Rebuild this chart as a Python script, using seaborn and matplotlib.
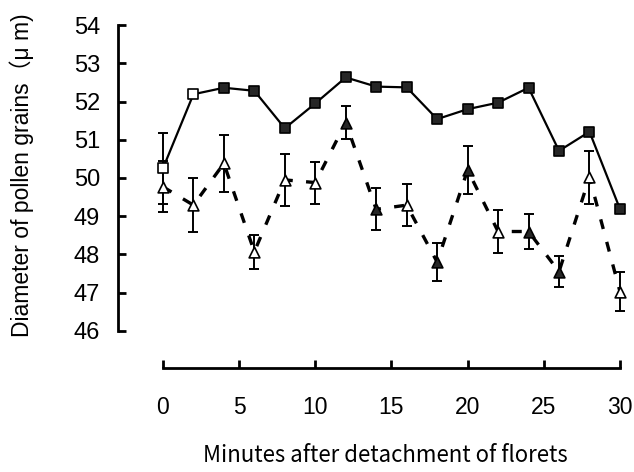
import numpy as np
import pandas as pd
import matplotlib
matplotlib.use("Agg")
import matplotlib.pyplot as plt
import seaborn as sns

# ---- data ----
minutes = [0, 2, 4, 6, 8, 10, 12, 14, 16, 18, 20, 22, 24, 26, 28, 30]
square_vals = [50.25, 52.19, 52.36, 52.28, 51.30, 51.95, 52.63, 52.39,
               52.37, 51.54, 51.80, 51.97, 52.36, 50.71, 51.21, 49.19]
square_err = [0.92] + [np.nan] * 15
square_filled = [False, False] + [True] * 14
tri_vals = [49.77, 49.29, 50.38, 48.07, 49.95, 49.88, 51.45, 49.18,
            49.29, 47.80, 50.21, 48.60, 48.60, 47.55, 50.02, 47.03]
tri_err = [0.67, 0.70, 0.75, 0.45, 0.68, 0.55, 0.44, 0.55,
           0.55, 0.49, 0.63, 0.55, 0.45, 0.40, 0.69, 0.51]
tri_filled = [False, False, False, False, False, False, True, True,
              False, True, True, False, True, True, False, False]
y_ticks = [46, 47, 48, 49, 50, 51, 52, 53, 54]
x_ticks = [0, 5, 10, 15, 20, 25, 30]
x_label = "Minutes after detachment of florets"
y_label = "Diameter of pollen grains（μ m)"

sq = pd.DataFrame({"t": minutes, "v": square_vals, "e": square_err, "f": square_filled})
tr = pd.DataFrame({"t": minutes, "v": tri_vals, "e": tri_err, "f": tri_filled})

sns.set_style("white")
plt.rcParams["font.family"] = ["Liberation Sans", "Noto Sans CJK JP", "DejaVu Sans"]

fig = plt.figure(figsize=(6.34, 4.72), dpi=100)
ax = fig.add_axes([118 / 634, (472 - 368) / 472, (630 - 118) / 634, (368 - 17.4) / 472])

dark = "#262626"

# triangle series (dashed)
ax.errorbar(tr["t"], tr["v"], yerr=tr["e"], fmt="none", ecolor="black",
            elinewidth=1.4, capsize=3.8, capthick=1.4, zorder=2)
sns.lineplot(data=tr, x="t", y="v", ax=ax, color="black", lw=2.4,
             linestyle=(0, (3.0, 4.0)), zorder=3)
sns.scatterplot(data=tr[tr["f"]], x="t", y="v", ax=ax, marker="^", s=60,
                color=dark, edgecolor="black", linewidth=1.2, zorder=5)
sns.scatterplot(data=tr[~tr["f"]], x="t", y="v", ax=ax, marker="^", s=60,
                color="white", edgecolor="black", linewidth=1.2, zorder=5)

# square series (solid)
ax.errorbar(sq["t"], sq["v"], yerr=sq["e"], fmt="none", ecolor="black",
            elinewidth=1.4, capsize=3.8, capthick=1.4, zorder=2)
sns.lineplot(data=sq, x="t", y="v", ax=ax, color="black", lw=1.6, zorder=4)
sns.scatterplot(data=sq[sq["f"]], x="t", y="v", ax=ax, marker="s", s=50,
                color=dark, edgecolor="black", linewidth=1.2, zorder=6)
sns.scatterplot(data=sq[~sq["f"]], x="t", y="v", ax=ax, marker="s", s=50,
                color="white", edgecolor="black", linewidth=1.2, zorder=6)

ax.set_xlim(-2.95, 30.66)
ax.set_ylim(45.03, 54.2)
ax.set_xticks(x_ticks)
ax.set_yticks(y_ticks)
ax.set_xticklabels([str(v) for v in x_ticks])
ax.set_yticklabels([str(v) for v in y_ticks])

for s in ["top", "right"]:
    ax.spines[s].set_visible(False)
ax.spines["left"].set_bounds(46, 54)
ax.spines["bottom"].set_bounds(0, 30)
for s in ["left", "bottom"]:
    ax.spines[s].set_linewidth(2.0)
    ax.spines[s].set_color("black")

ax.tick_params(axis="y", direction="in", length=6, width=2.0, pad=13,
               labelsize=17, colors="black", left=True)
ax.tick_params(axis="x", direction="in", length=6, width=2.0, pad=20,
               labelsize=16.5, colors="black", bottom=True)
ax.set_xlabel("")
ax.set_ylabel("")

fig.text(22 / 634, 1 - 175 / 472, y_label, rotation=90, ha="center", va="center",
         fontsize=16.5, color="black")
fig.text(385 / 634, 1 - 455 / 472, x_label, ha="center", va="center",
         fontsize=16, color="black", family=["Noto Sans CJK JP", "DejaVu Sans"])

fig.savefig("out.png", dpi=100, facecolor="white")
